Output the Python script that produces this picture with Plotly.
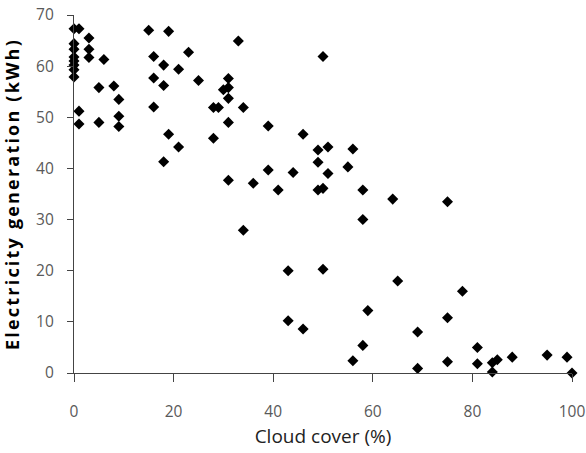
import plotly.graph_objects as go

cloud_cover = [
    0, 0, 0, 0, 0, 0, 0, 0,
    1, 1, 1,
    3, 3, 3,
    6, 5, 5, 8, 9, 9, 9,
    15, 16, 16, 16, 19, 18, 18, 19, 18,
    21, 21, 23, 25, 28, 29, 28, 30,
    31, 31, 31, 31, 31, 33, 34, 34, 36,
    39, 39, 41, 43, 43, 44, 46, 46,
    49, 49, 49, 50, 50, 50, 51, 51, 55, 56, 56,
    58, 58, 58, 59, 64, 65, 69, 69,
    75, 75, 75, 78, 81, 81, 84, 84, 85, 88, 95, 99, 100,
]
electricity_kwh = [
    67.3, 64.4, 63.3, 61.8, 61.0, 60.2, 59.3, 57.9,
    67.3, 51.2, 48.7,
    65.5, 63.3, 61.7,
    61.3, 55.8, 49.0, 56.1, 53.5, 50.2, 48.2,
    67.0, 61.9, 57.7, 52.0, 66.8, 60.2, 56.2, 46.7, 41.3,
    59.4, 44.2, 62.7, 57.2, 51.9, 51.9, 45.9, 55.4,
    57.6, 55.8, 53.7, 49.0, 37.7, 64.9, 51.9, 27.9, 37.1,
    48.3, 39.7, 35.8, 20.0, 10.2, 39.2, 46.7, 8.6,
    43.6, 41.2, 35.8, 61.9, 36.1, 20.3, 44.2, 39.0, 40.3, 43.8, 2.4,
    35.8, 30.0, 5.4, 12.2, 34.0, 18.0, 8.0, 0.9,
    33.5, 10.8, 2.2, 16.0, 5.0, 1.8, 2.0, 0.2, 2.6, 3.1, 3.5, 3.1, 0.0,
]

x_ticks = [0, 20, 40, 60, 80, 100]
y_ticks = [0, 10, 20, 30, 40, 50, 60, 70]

FONT = "Open Sans"

fig = go.Figure(
    go.Scatter(
        x=cloud_cover,
        y=electricity_kwh,
        mode="markers",
        marker=dict(symbol="diamond", size=8.5, color="black",
                    line=dict(width=0)),
        cliponaxis=False,
        showlegend=False,
    )
)

axis_common = dict(
    showgrid=False,
    zeroline=False,
    showline=True,
    automargin=False,
    linecolor="#444444",
    linewidth=1.3,
    ticks="outside",
    tickcolor="#444444",
    tickwidth=1.3,
    ticklabeloverflow="allow",
)

fig.update_xaxes(
    range=[0, 100],
    tickvals=x_ticks,
    ticktext=['<br><span style="font-size:15.5px">%d</span>' % v for v in x_ticks],
    tickfont=dict(family=FONT, size=14, color="#595959"),
    ticklen=8,
    title=dict(text="Cloud cover (%)",
               font=dict(family=FONT, size=19, color="#222222"),
               standoff=8),
    **axis_common,
)
fig.update_yaxes(
    range=[0, 70],
    tickvals=y_ticks,
    ticktext=[str(v) for v in y_ticks],
    tickfont=dict(family=FONT, size=15.5, color="#595959"),
    ticklen=6,
    ticklabelstandoff=10,
    title=dict(text='<span style="letter-spacing:2.2px"><b>Electricity generation (kWh)</b></span>',
               font=dict(family=FONT, size=18, color="black"),
               standoff=13),
    **axis_common,
)

fig.update_layout(
    width=586,
    height=453,
    margin=dict(l=74, r=14, t=15, b=80),
    paper_bgcolor="white",
    plot_bgcolor="white",
)

# remove the browser's default body margin so the figure fills the window
fig.write_html(
    "out.html",
    config={"displayModeBar": False},
    post_script="document.body.style.margin='0';",
)
